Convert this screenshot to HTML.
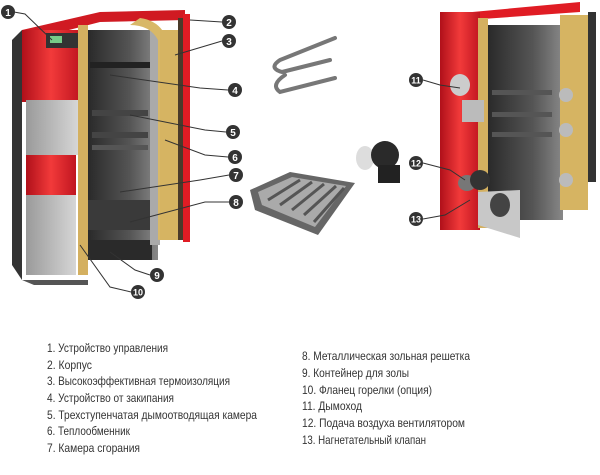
<!DOCTYPE html>
<html><head><meta charset="utf-8"><style>
html,body{margin:0;padding:0;background:#fff;width:600px;height:475px;overflow:hidden}
svg{display:block}
text{font-family:"Liberation Sans","DejaVu Sans",sans-serif}
</style></head><body>
<svg width="600" height="475" viewBox="0 0 600 475" xmlns="http://www.w3.org/2000/svg">
<defs>
<linearGradient id="red" x1="0" y1="0" x2="1" y2="0"><stop offset="0" stop-color="#b0101a"/><stop offset="0.5" stop-color="#f23a3a"/><stop offset="1" stop-color="#c01520"/></linearGradient>
<linearGradient id="grey" x1="0" y1="0" x2="1" y2="0"><stop offset="0" stop-color="#9a9a9a"/><stop offset="1" stop-color="#d6d6d6"/></linearGradient>
<linearGradient id="dark" x1="0" y1="0" x2="1" y2="0"><stop offset="0" stop-color="#2a2a2a"/><stop offset="0.6" stop-color="#555"/><stop offset="1" stop-color="#888"/></linearGradient>
</defs>
<!-- LEFT BOILER -->
<polygon points="22,30 100,12 185,10 185,20 100,22 30,40" fill="#d01a22"/>
<polygon points="12,40 22,30 22,280 12,265" fill="#333"/>
<rect x="22" y="30" width="58" height="72" fill="url(#red)"/>
<rect x="46" y="33" width="32" height="15" fill="#333"/><rect x="50" y="36" width="12" height="7" fill="#7c8"/>
<rect x="26" y="100" width="52" height="55" fill="url(#grey)"/>
<rect x="26" y="155" width="50" height="40" fill="url(#red)"/>
<rect x="26" y="195" width="50" height="80" fill="url(#grey)"/>
<polygon points="22,280 88,280 88,285 34,285" fill="#555"/>
<rect x="78" y="25" width="10" height="250" fill="#d4b060"/>
<rect x="88" y="30" width="70" height="230" fill="url(#dark)"/>
<rect x="90" y="62" width="60" height="6" fill="#222"/>
<rect x="92" y="110" width="56" height="6" fill="#444"/>
<rect x="92" y="132" width="56" height="6" fill="#444"/>
<rect x="92" y="145" width="56" height="5" fill="#555"/>
<rect x="88" y="200" width="64" height="30" fill="#3a3a3a"/>
<rect x="90" y="240" width="62" height="20" fill="#2a2a2a"/>
<rect x="150" y="30" width="10" height="215" fill="#aaa"/>
<path d="M140,18 Q170,22 170,60 L178,60 L178,238 L158,240 L158,40 Q150,25 130,25 Z" fill="#d8b868"/>
<rect x="160" y="30" width="18" height="210" fill="#d6b462"/>
<rect x="178" y="18" width="5" height="222" fill="#4a3a2a"/>
<rect x="183" y="14" width="7" height="228" fill="#e01c24"/>
<!-- pipe -->
<path d="M335,38 L280,60 Q268,68 282,72 L330,60 M285,75 Q270,85 280,92 L335,78" stroke="#777" stroke-width="4" fill="none" stroke-linecap="round"/>
<!-- grate -->
<polygon points="250,190 290,172 355,183 318,235 255,210" fill="#666"/>
<polygon points="258,192 292,177 346,186 315,227 262,205" fill="#aaa"/>
<g stroke="#555" stroke-width="3"><line x1="268" y1="200" x2="300" y2="180"/><line x1="280" y1="205" x2="312" y2="182"/><line x1="292" y1="210" x2="324" y2="184"/><line x1="304" y1="215" x2="336" y2="186"/><line x1="314" y1="222" x2="344" y2="188"/></g>
<!-- fan -->
<ellipse cx="365" cy="158" rx="9" ry="12" fill="#ddd"/>
<ellipse cx="385" cy="155" rx="14" ry="14" fill="#2a2a2a"/>
<rect x="378" y="165" width="22" height="18" fill="#222"/>
<!-- RIGHT BOILER -->
<polygon points="440,15 580,2 580,12 440,22" fill="#e01c24"/>
<rect x="440" y="12" width="40" height="218" fill="url(#red)"/>
<rect x="478" y="18" width="10" height="210" fill="#d4b060"/>
<rect x="488" y="25" width="75" height="195" fill="url(#dark)"/>
<rect x="492" y="90" width="60" height="5" fill="#555"/><rect x="492" y="112" width="60" height="5" fill="#555"/><rect x="492" y="132" width="60" height="5" fill="#555"/>
<rect x="560" y="15" width="28" height="195" fill="#d6b462"/>
<rect x="588" y="12" width="8" height="170" fill="#333"/>
<circle cx="566" cy="95" r="7" fill="#bbb"/><circle cx="566" cy="130" r="7" fill="#bbb"/><circle cx="566" cy="180" r="7" fill="#bbb"/>
<ellipse cx="460" cy="85" rx="10" ry="11" fill="#ccc"/>
<rect x="462" y="100" width="22" height="22" fill="#bbb"/>
<ellipse cx="467" cy="183" rx="9" ry="8" fill="#777"/><ellipse cx="480" cy="180" rx="10" ry="10" fill="#333"/>
<polygon points="478,192 520,190 520,238 478,225" fill="#c8c8c8"/>
<ellipse cx="500" cy="205" rx="10" ry="12" fill="#444"/>
<!-- callouts -->
<g stroke="#333" stroke-width="1" fill="none">
<polyline points="14,12 25,14 52,40"/><polyline points="222,22 190,20"/><polyline points="222,41 175,55"/>
<polyline points="228,90 200,88 110,75"/><polyline points="226,132 205,130 130,115"/><polyline points="228,157 205,155 165,140"/>
<polyline points="229,175 200,180 120,192"/><polyline points="229,202 205,202 130,222"/><polyline points="150,275 135,270 110,252"/>
<polyline points="131,292 110,287 80,245"/><polyline points="423,80 440,85 460,88"/><polyline points="423,163 450,170 465,180"/><polyline points="423,219 445,215 470,200"/>
</g>
<g font-size="10" font-weight="bold" text-anchor="middle" fill="#fff">
<circle cx="8" cy="12" r="7" fill="#333"/><text x="8" y="16">1</text>
<circle cx="229" cy="22" r="7" fill="#333"/><text x="229" y="26">2</text>
<circle cx="229" cy="41" r="7" fill="#333"/><text x="229" y="45">3</text>
<circle cx="235" cy="90" r="7" fill="#333"/><text x="235" y="94">4</text>
<circle cx="233" cy="132" r="7" fill="#333"/><text x="233" y="136">5</text>
<circle cx="235" cy="157" r="7" fill="#333"/><text x="235" y="161">6</text>
<circle cx="236" cy="175" r="7" fill="#333"/><text x="236" y="179">7</text>
<circle cx="236" cy="202" r="7" fill="#333"/><text x="236" y="206">8</text>
<circle cx="157" cy="275" r="7" fill="#333"/><text x="157" y="279">9</text>
<circle cx="138" cy="292" r="7" fill="#333"/><text x="138" y="295.5" font-size="9">10</text>
<circle cx="416" cy="80" r="7" fill="#333"/><text x="416" y="83.5" font-size="9">11</text>
<circle cx="416" cy="163" r="7" fill="#333"/><text x="416" y="166.5" font-size="9">12</text>
<circle cx="416" cy="219" r="7" fill="#333"/><text x="416" y="222.5" font-size="9">13</text>
</g>
<!-- legend -->
<g font-size="12" fill="#333" lengthAdjust="spacingAndGlyphs">
<text x="47" y="352" textLength="121" lengthAdjust="spacingAndGlyphs">1. Устройство управления</text>
<text x="47" y="369" textLength="45" lengthAdjust="spacingAndGlyphs">2. Корпус</text>
<text x="47" y="385" textLength="183" lengthAdjust="spacingAndGlyphs">3. Высокоэффективная термоизоляция</text>
<text x="47" y="402" textLength="127" lengthAdjust="spacingAndGlyphs">4. Устройство от закипания</text>
<text x="47" y="419" textLength="210" lengthAdjust="spacingAndGlyphs">5. Трехступенчатая дымоотводящая камера</text>
<text x="47" y="435" textLength="83" lengthAdjust="spacingAndGlyphs">6. Теплообменник</text>
<text x="47" y="452" textLength="93" lengthAdjust="spacingAndGlyphs">7. Камера сгорания</text>
<text x="302" y="360" textLength="168" lengthAdjust="spacingAndGlyphs">8. Металлическая зольная решетка</text>
<text x="302" y="377" textLength="107" lengthAdjust="spacingAndGlyphs">9. Контейнер для золы</text>
<text x="302" y="394" textLength="130" lengthAdjust="spacingAndGlyphs">10. Фланец горелки (опция)</text>
<text x="302" y="410" textLength="60" lengthAdjust="spacingAndGlyphs">11. Дымоход</text>
<text x="302" y="427" textLength="163" lengthAdjust="spacingAndGlyphs">12. Подача воздуха вентилятором</text>
<text x="302" y="444" textLength="124" lengthAdjust="spacingAndGlyphs">13. Нагнетательный клапан</text>
</g>
</svg>
</body></html>
